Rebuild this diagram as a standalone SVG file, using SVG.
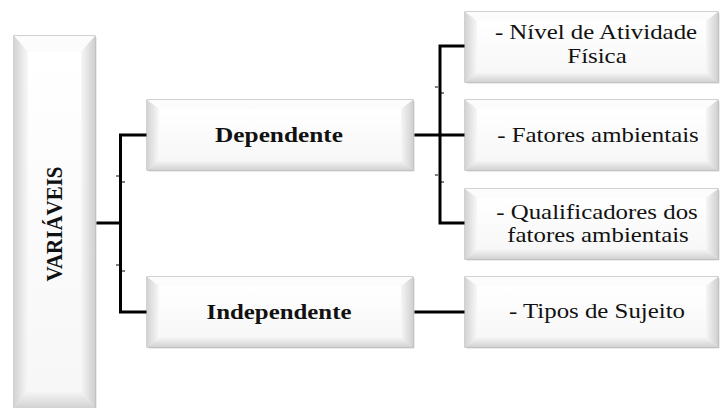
<svg xmlns="http://www.w3.org/2000/svg" xmlns:xlink="http://www.w3.org/1999/xlink" width="720" height="408" viewBox="0 0 720 408">
  <style>
    .frame { fill: #efefef; stroke: #b3b3b3; stroke-width: 1.2; }
    .shadow { fill: #d9d9d9; }
    .bev-top { fill: #fcfcfc; }
    .bev-left { fill: url(#gLeft); }
    .bev-right { fill: url(#gRight); }
    .bev-bottom { fill: url(#gBottom); }
    .face { fill: url(#gFace); }
    .wire { fill: none; stroke: #000; stroke-width: 3; stroke-linecap: square; }
    .tick { stroke: #000; stroke-width: 1; }
    text { font-family: "Liberation Serif", "DejaVu Serif", serif; font-size: 22px; fill: #111; text-anchor: middle; }
    .bold { font-weight: bold; }
  </style>
  <defs>
    <linearGradient id="gLeft" x1="0" y1="0" x2="1" y2="0">
      <stop offset="0" stop-color="#d3d3d3"/>
      <stop offset="1" stop-color="#f8f8f8"/>
    </linearGradient>
    <linearGradient id="gRight" x1="0" y1="0" x2="1" y2="0">
      <stop offset="0" stop-color="#f6f6f6"/>
      <stop offset="1" stop-color="#d0d0d0"/>
    </linearGradient>
    <linearGradient id="gBottom" x1="0" y1="0" x2="0" y2="1">
      <stop offset="0" stop-color="#f4f4f4"/>
      <stop offset="1" stop-color="#d2d2d2"/>
    </linearGradient>
    <linearGradient id="gFace" x1="0" y1="0" x2="0" y2="1">
      <stop offset="0" stop-color="#ffffff"/>
      <stop offset="1" stop-color="#f7f7f7"/>
    </linearGradient>

    <!-- bevelled tile, 266 x 70 (middle column) -->
    <g id="tileMid">
      <rect class="shadow" x="1.5" y="1.5" width="266" height="70"/>
      <rect class="frame" x="0" y="0" width="266" height="70"/>
      <polygon class="bev-top" points="0,0 266,0 254,9 12,9"/>
      <polygon class="bev-bottom" points="0,70 266,70 254,61 12,61"/>
      <polygon class="bev-left" points="0,0 12,9 12,61 0,70"/>
      <polygon class="bev-right" points="266,0 254,9 254,61 266,70"/>
      <rect class="face" x="12" y="9" width="242" height="52"/>
    </g>

    <!-- bevelled tile, 253 x 70 (right column) -->
    <g id="tileRight">
      <rect class="shadow" x="1.5" y="1.5" width="253" height="70"/>
      <rect class="frame" x="0" y="0" width="253" height="70"/>
      <polygon class="bev-top" points="0,0 253,0 241,9 12,9"/>
      <polygon class="bev-bottom" points="0,70 253,70 241,61 12,61"/>
      <polygon class="bev-left" points="0,0 12,9 12,61 0,70"/>
      <polygon class="bev-right" points="253,0 241,9 241,61 253,70"/>
      <rect class="face" x="12" y="9" width="229" height="52"/>
    </g>
  </defs>

  <!-- connectors -->
  <g id="connectors">
    <path class="wire" d="M95,223 H120.5"/>
    <path class="wire" d="M147,135 H120.5 V312 H147"/>
    <path class="wire" d="M413,135 H465"/>
    <path class="wire" d="M465,46 H440 V223 H465"/>
    <path class="wire" d="M413,312 H465"/>
    <line class="tick" x1="116" y1="176" x2="119" y2="176"/>
    <line class="tick" x1="122" y1="182" x2="125" y2="182"/>
    <line class="tick" x1="116" y1="265" x2="119" y2="265"/>
    <line class="tick" x1="122" y1="271" x2="125" y2="271"/>
    <line class="tick" x1="435" y1="87" x2="438" y2="87"/>
    <line class="tick" x1="441" y1="93" x2="444" y2="93"/>
    <line class="tick" x1="435" y1="175" x2="438" y2="175"/>
    <line class="tick" x1="441" y1="182" x2="444" y2="182"/>
  </g>

  <!-- root: VARIÁVEIS -->
  <g id="variaveis">
    <rect class="shadow" x="15.5" y="37.5" width="81" height="372"/>
    <rect class="frame" x="14" y="36" width="81" height="372"/>
    <polygon class="bev-top" points="14,36 95,36 81,52 28,52"/>
    <polygon class="bev-bottom" points="14,408 95,408 81,392 28,392"/>
    <polygon class="bev-left" points="14,36 28,52 28,392 14,408"/>
    <polygon class="bev-right" points="95,36 81,52 81,392 95,408"/>
    <rect class="face" x="28" y="52" width="53" height="340"/>
    <text class="bold" style="font-size:21px" transform="translate(62,224) scale(1.13,1) rotate(-90)">VARIÁVEIS</text>
  </g>

  <g id="dependente">
    <use xlink:href="#tileMid" x="147" y="100"/>
    <text class="bold" transform="translate(279,142) scale(1.15,1)">Dependente</text>
  </g>

  <g id="independente">
    <use xlink:href="#tileMid" x="147" y="277"/>
    <text class="bold" transform="translate(279,319) scale(1.13,1)">Independente</text>
  </g>

  <g id="nivel-atividade">
    <use xlink:href="#tileRight" x="465" y="12"/>
    <text transform="translate(596,39) scale(1.13,1)">- Nível de Atividade</text>
    <text transform="translate(597,63) scale(1.13,1)">Física</text>
  </g>

  <g id="fatores-ambientais">
    <use xlink:href="#tileRight" x="465" y="100"/>
    <text transform="translate(598,142) scale(1.13,1)">- Fatores ambientais</text>
  </g>

  <g id="qualificadores">
    <use xlink:href="#tileRight" x="465" y="189"/>
    <text transform="translate(597,219) scale(1.13,1)">- Qualificadores dos</text>
    <text transform="translate(598,242) scale(1.13,1)">fatores ambientais</text>
  </g>

  <g id="tipos-sujeito">
    <use xlink:href="#tileRight" x="465" y="277"/>
    <text transform="translate(597,318) scale(1.13,1)">- Tipos de Sujeito</text>
  </g>
</svg>
